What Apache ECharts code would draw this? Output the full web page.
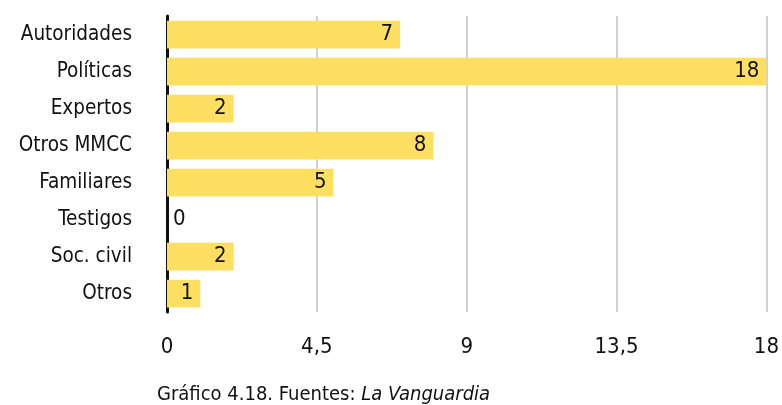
<!DOCTYPE html>
<html>
<head>
<meta charset="utf-8">
<script src="https://cdn.jsdelivr.net/npm/echarts@6/dist/echarts.min.js"></script>
<style>
  html, body { margin: 0; padding: 0; background: #fff; }
  #chart { width: 782px; height: 405px; }
</style>
</head>
<body>
<div id="chart"></div>
<script>
const categories = ["Autoridades", "Políticas", "Expertos", "Otros MMCC", "Familiares", "Testigos", "Soc. civil", "Otros"];
const values = [7, 18, 2, 8, 5, 0, 2, 1];
const caption = "Gráfico 4.18. Fuentes: ";
const captionItalic = "La Vanguardia";

const font = "'DejaVu Sans Condensed', 'Liberation Sans Narrow', sans-serif";

let chart = echarts.init(document.getElementById("chart"));

// el cero lleva la etiqueta fuera de la barra
let seriesData = values.map(function (v) {
  if (v === 0) {
    return { value: v, label: { position: "right", distance: 6 } };
  }
  return v;
});

let option = {
  textStyle: { fontFamily: font },
  grid: { left: 167, right: 15, top: 16, bottom: 93 },
  title: {
    text: "{n|" + caption + "}{i|" + captionItalic + "}",
    left: 152,
    top: 380,
    textStyle: {
      rich: {
        n: { fontFamily: font, fontSize: 20, color: "#111", fontWeight: "normal" },
        i: { fontFamily: font, fontSize: 20, color: "#111", fontWeight: "normal", fontStyle: "italic" }
      }
    }
  },
  xAxis: {
    type: "value",
    min: 0,
    max: 18,
    interval: 4.5,
    axisLine: { show: false },
    axisTick: { show: false },
    splitLine: { show: true, lineStyle: { color: "#d0d0d0", width: 2 } },
    axisLabel: {
      color: "#111",
      fontSize: 22,
      margin: 24,
      fontFamily: font,
      formatter: function (v) { return String(v).replace(".", ","); }
    }
  },
  yAxis: {
    type: "category",
    inverse: true,
    data: categories,
    axisLine: { show: true, lineStyle: { color: "#111", width: 3 } },
    axisTick: { show: false },
    axisLabel: { color: "#111", fontSize: 20.5, margin: 35, fontFamily: font }
  },
  series: [
    {
      type: "bar",
      data: seriesData,
      barCategoryGap: "25%",
      itemStyle: { color: "#FFDF62" },
      label: {
        show: true,
        position: "insideRight",
        distance: 7,
        color: "#111",
        fontSize: 22,
        fontFamily: font
      },
      silent: true
    }
  ],
  animation: false
};
chart.setOption(option);
</script>
</body>
</html>
